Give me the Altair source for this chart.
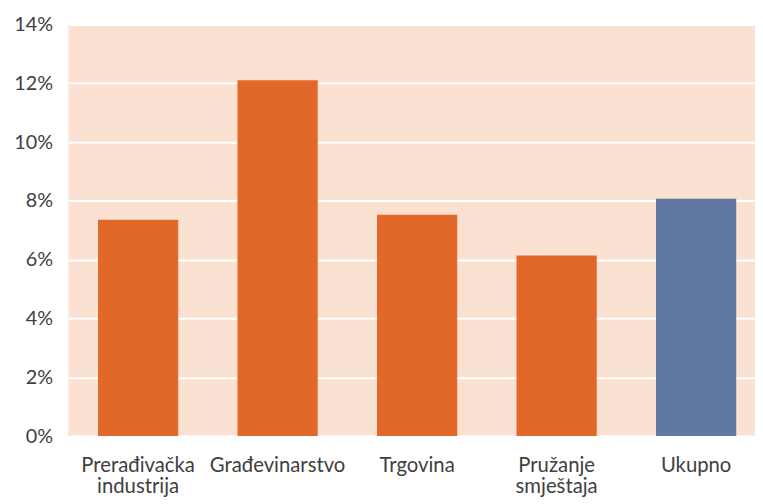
import altair as alt
import pandas as pd

categories = ["Prerađivačka industrija", "Građevinarstvo", "Trgovina", "Pružanje smještaja", "Ukupno"]
values = [0.0736, 0.121, 0.0753, 0.0614, 0.0807]
groups = ["sektor", "sektor", "sektor", "sektor", "ukupno"]

df = pd.DataFrame({"kategorija": categories, "vrijednost": values, "grupa": groups})

FONT = "Lato"

chart = alt.Chart(df).mark_bar().encode(
    x=alt.X("kategorija:N", sort=categories, title=None,
            scale=alt.Scale(range=[0, 705], paddingInner=0.425, paddingOuter=0.2125),
            axis=alt.Axis(labelAngle=0, labelExpr="split(datum.value, ' ')",
                          labelFontSize=20.5, labelColor="#404040", labelFont=FONT,
                          labelPadding=20, labelLineHeight=21, domain=False, ticks=False,
                          grid=False, labelBaseline="top")),
    y=alt.Y("vrijednost:Q", title=None,
            scale=alt.Scale(domain=[0, 0.14], nice=False),
            axis=alt.Axis(format=".0%", values=[0, 0.02, 0.04, 0.06, 0.08, 0.10, 0.12, 0.14],
                          labelFontSize=20, labelColor="#404040", labelFont=FONT,
                          labelPadding=16, domain=False, ticks=False,
                          grid=True, gridColor="#FFFFFF", gridWidth=2)),
    color=alt.Color("grupa:N", legend=None,
                    scale=alt.Scale(domain=["sektor", "ukupno"], range=["#E2682A", "#6079A2"])),
).properties(
    width=694, height=416,
    padding={"left": 61, "top": 14, "right": 0, "bottom": 70},
    autosize=alt.AutoSizeParams(type="none"),
).configure(
    background="#FFFFFF",
    view=alt.ViewConfig(fill="#FBE1D2", stroke=None),
)

chart.save("out.html", embed_options={"renderer": "svg", "actions": False})
